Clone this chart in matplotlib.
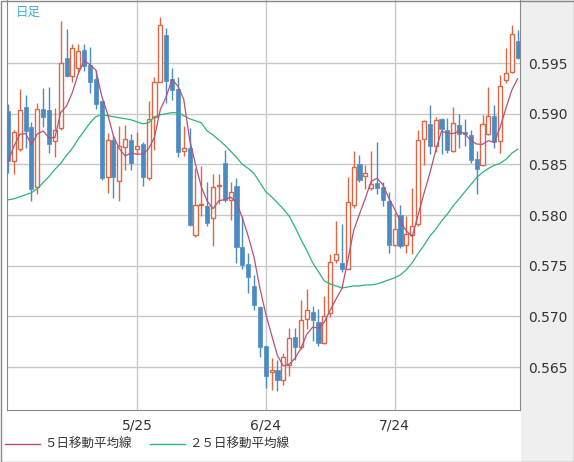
import matplotlib
matplotlib.use("Agg")
import matplotlib.pyplot as plt
import numpy as np
import pandas as pd
from matplotlib.patches import Rectangle

plt.rcParams['font.family'] = ['Noto Sans CJK JP', 'DejaVu Sans']

opens = [0.5903,0.5853,0.5865,0.5907,0.5887,0.5828,0.5905,0.5904,0.5873,0.5886,0.5955,0.5937,0.5945,0.5963,0.5948,0.5934,0.5913,0.5838,0.5874,0.5834,0.5867,0.5874,0.5865,0.5870,0.5837,0.5897,0.5931,0.5978,0.5934,0.5924,0.5863,0.5866,0.5780,0.5810,0.5809,0.5797,0.5829,0.5851,0.5815,0.5829,0.5768,0.5752,0.5730,0.5709,0.5671,
         0.5645,0.5647,0.5637,0.5652,0.5680,0.5670,0.5697,0.5704,0.5694,0.5674,0.5703,0.5756,0.5753,0.5747,0.5810,0.5850,0.5839,0.5827,0.5832,0.5828,0.5814,0.5770,0.5800,0.5770,0.5780,0.5791,0.5875,0.5890,0.5868,0.5895,0.5884,0.5863,0.5889,0.5882,0.5879,0.5855,0.5849,0.5880,0.5898,0.5873,0.5933,0.5941,0.5972]
highs = [0.5910,0.5884,0.5924,0.5918,0.5892,0.5911,0.5925,0.5926,0.5906,0.5991,0.5984,0.5969,0.5969,0.5969,0.5966,0.5943,0.5913,0.5881,0.5879,0.5888,0.5889,0.5880,0.5882,0.5872,0.5913,0.5936,0.5995,0.5985,0.5945,0.5936,0.5888,0.5886,0.5846,0.5848,0.5833,0.5840,0.5840,0.5864,0.5833,0.5837,0.5799,0.5763,0.5741,0.5710,0.5671,
         0.5659,0.5657,0.5664,0.5689,0.5689,0.5716,0.5727,0.5710,0.5707,0.5720,0.5762,0.5794,0.5791,0.5838,0.5863,0.5859,0.5849,0.5863,0.5872,0.5833,0.5823,0.5802,0.5810,0.5799,0.5827,0.5884,0.5894,0.5909,0.5897,0.5896,0.5896,0.5907,0.5900,0.5895,0.5884,0.5863,0.5899,0.5926,0.5909,0.5938,0.5965,0.5988,0.5983]
lows = [0.5841,0.5840,0.5863,0.5866,0.5814,0.5821,0.5887,0.5861,0.5857,0.5884,0.5936,0.5931,0.5940,0.5942,0.5920,0.5905,0.5835,0.5822,0.5817,0.5814,0.5844,0.5844,0.5860,0.5829,0.5835,0.5864,0.5931,0.5911,0.5914,0.5857,0.5858,0.5789,0.5778,0.5799,0.5789,0.5769,0.5811,0.5813,0.5795,0.5753,0.5747,0.5723,0.5706,0.5660,0.5629,
        0.5627,0.5626,0.5632,0.5641,0.5657,0.5668,0.5688,0.5676,0.5671,0.5673,0.5699,0.5753,0.5744,0.5747,0.5807,0.5833,0.5826,0.5825,0.5821,0.5809,0.5763,0.5769,0.5767,0.5763,0.5762,0.5789,0.5849,0.5860,0.5862,0.5860,0.5861,0.5862,0.5866,0.5868,0.5851,0.5821,0.5848,0.5879,0.5866,0.5861,0.5930,0.5940,0.5954]
closes = [0.5853,0.5882,0.5904,0.5883,0.5826,0.5905,0.5897,0.5870,0.5884,0.5950,0.5937,0.5965,0.5962,0.5947,0.5931,0.5910,0.5837,0.5874,0.5838,0.5868,0.5875,0.5851,0.5868,0.5838,0.5895,0.5931,0.5988,0.5932,0.5923,0.5862,0.5866,0.5790,0.5810,0.5811,0.5792,0.5828,0.5830,0.5815,0.5823,0.5768,0.5751,0.5739,0.5711,0.5670,0.5641,
          0.5647,0.5637,0.5660,0.5679,0.5670,0.5696,0.5706,0.5696,0.5674,0.5700,0.5754,0.5762,0.5747,0.5813,0.5847,0.5835,0.5841,0.5831,0.5827,0.5815,0.5770,0.5786,0.5769,0.5781,0.5789,0.5874,0.5893,0.5868,0.5894,0.5885,0.5864,0.5891,0.5880,0.5880,0.5854,0.5845,0.5890,0.5898,0.5872,0.5927,0.5940,0.5979,0.5955]
ma25 = [0.5815,0.5816,0.5818,0.5820,0.5822,0.5826,0.5832,0.5838,0.5845,0.5851,0.5859,0.5866,0.5875,0.5883,0.5891,0.5897,0.5899,0.5898,0.5897,0.5896,0.5895,0.5894,0.5892,0.5890,0.5891,0.5897,0.5899,0.5900,0.5901,0.5901,0.5898,0.5895,0.5893,0.5891,0.5883,0.5879,0.5874,0.5869,0.5863,0.5857,0.5850,0.5846,0.5841,0.5832,0.5823,
        0.5818,0.5812,0.5806,0.5799,0.5788,0.5776,0.5765,0.5753,0.5744,0.5735,0.5732,0.5730,0.5728,0.5729,0.5730,0.5730,0.5731,0.5731,0.5732,0.5734,0.5736,0.5738,0.5741,0.5746,0.5753,0.5762,0.5770,0.5779,0.5786,0.5794,0.5801,0.5809,0.5816,0.5823,0.5830,0.5837,0.5842,0.5846,0.5849,0.5851,0.5855,0.5861,0.5865]
xtick_pos = [22, 44, 66]
xtick_labels = ['5/25', '6/24', '7/24']
yticks = [0.565, 0.570, 0.575, 0.580, 0.585, 0.590, 0.595]

ma5 = pd.Series(closes).rolling(5, min_periods=1).mean().values

RED = '#dd6644'; BLUE = '#4a8bc2'
fig = plt.figure(figsize=(5.74, 4.62), dpi=100)
fig.patch.set_facecolor('white')
fig.patches.append(Rectangle((521/574, 0), 53/574, 1, transform=fig.transFigure, facecolor='#efefef', edgecolor='none', zorder=-10))
fig.patches.append(Rectangle((0.5/574, 0.5/462), 573/574, 461/462, transform=fig.transFigure, facecolor='none', edgecolor='#888888', lw=1, zorder=5))

ax = fig.add_axes([7/574, 52/462, 513/574, 410/462])
ax.set_zorder(1)
ax.set_facecolor('white')
n = len(closes)
x = np.arange(n)
w = 0.7
for i in range(n):
    o, h, l, c = opens[i], highs[i], lows[i], closes[i]
    col = RED if c >= o else BLUE
    lo, hi = min(o, c), max(o, c)
    ax.vlines(i, l, lo, color=col, lw=1, zorder=3)
    ax.vlines(i, hi, h, color=col, lw=1, zorder=3)
    if c >= o:
        ax.add_patch(Rectangle((i - w/2, lo), w, max(hi - lo, 0.00004), facecolor='white', edgecolor=col, lw=1, zorder=3))
    else:
        ax.add_patch(Rectangle((i - w/2, lo), w, max(hi - lo, 0.00004), facecolor=col, edgecolor=col, lw=0.5, zorder=3))
ax.plot(x, ma25, color='#2db37a', lw=0.9, zorder=4)
ax.plot(x, ma5, color='#b8507a', lw=0.9, zorder=4)

ax.set_xlim(-0.17, 87.4)
ax.set_ylim(0.56076, 0.60122)
ax.set_yticks(yticks)
ax.set_yticklabels([f'{v:.3f}' for v in yticks], fontsize=10, color='#333333', family='DejaVu Sans')
ax.yaxis.tick_right()
ax.set_xticks(xtick_pos)
ax.set_xticklabels(xtick_labels, fontsize=10, color='#333333', family='DejaVu Sans')
ax.tick_params(length=0, pad=6)
ax.grid(True, color='#c8c8c8', lw=1)
ax.set_axisbelow(True)
for s in ax.spines.values():
    s.set_color('#888888')
ax.spines['top'].set_visible(False)
ax.text(0.018, 0.985, '日足', transform=ax.transAxes, color='#44aadd', fontsize=9, va='top')

fig.lines.append(plt.Line2D([5/574, 40/574], [1 - 444/462]*2, color='#b8507a', lw=1, transform=fig.transFigure))
fig.text(44/574, 1 - 444/462, '５日移動平均線', fontsize=9, color='#333333', va='center')
fig.lines.append(plt.Line2D([150/574, 185/574], [1 - 444/462]*2, color='#2db37a', lw=1, transform=fig.transFigure))
fig.text(189/574, 1 - 444/462, '２５日移動平均線', fontsize=9, color='#333333', va='center')

fig.savefig('out.png', dpi=100)
